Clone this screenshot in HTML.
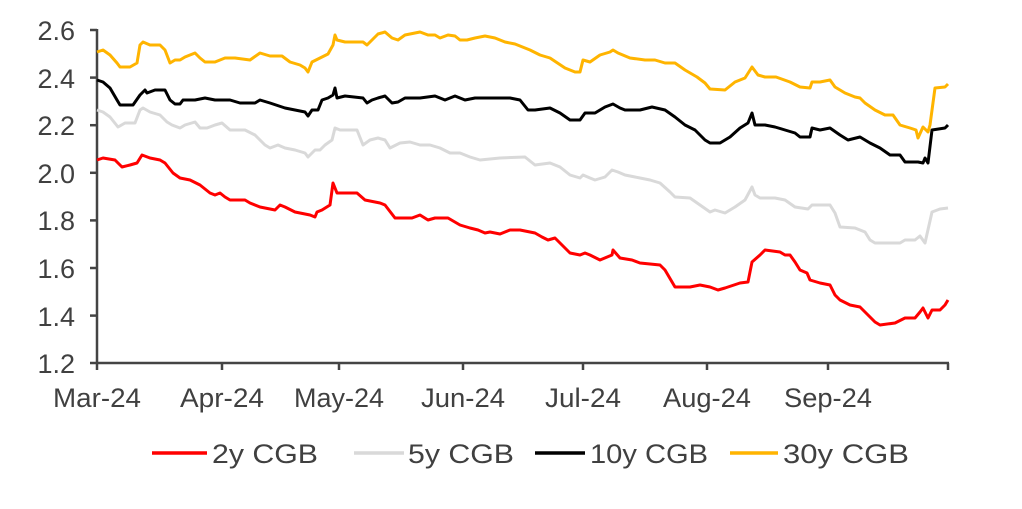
<!DOCTYPE html>
<html><head><meta charset="utf-8"><style>
html,body{margin:0;padding:0;background:#fff;}
svg{display:block;}
text{font-family:"Liberation Sans",Arial,sans-serif;fill:#404040;font-size:27px;}
</style></head><body>
<svg width="1022" height="509" viewBox="0 0 1022 509">
<g stroke="#444" stroke-width="2.5" fill="none">
<line x1="97" y1="29" x2="97" y2="364"/>
<line x1="96" y1="363" x2="949" y2="363"/>
<line x1="90" y1="30" x2="97" y2="30"/>
<line x1="90" y1="77.6" x2="97" y2="77.6"/>
<line x1="90" y1="125.2" x2="97" y2="125.2"/>
<line x1="90" y1="172.8" x2="97" y2="172.8"/>
<line x1="90" y1="220.4" x2="97" y2="220.4"/>
<line x1="90" y1="268" x2="97" y2="268"/>
<line x1="90" y1="315.6" x2="97" y2="315.6"/>
<line x1="90" y1="363" x2="97" y2="363"/>
<line x1="97" y1="363" x2="97" y2="370"/>
<line x1="222" y1="363" x2="222" y2="370"/>
<line x1="339" y1="363" x2="339" y2="370"/>
<line x1="463" y1="363" x2="463" y2="370"/>
<line x1="583" y1="363" x2="583" y2="370"/>
<line x1="707" y1="363" x2="707" y2="370"/>
<line x1="828" y1="363" x2="828" y2="370"/>
<line x1="948" y1="363" x2="948" y2="370"/>
</g>
<g text-anchor="end">
<text x="75" y="40">2.6</text><text x="75" y="88">2.4</text><text x="75" y="135">2.2</text>
<text x="75" y="183">2.0</text><text x="75" y="230">1.8</text><text x="75" y="278">1.6</text>
<text x="75" y="326">1.4</text><text x="75" y="373">1.2</text>
</g>
<g text-anchor="middle">
<text x="97" y="407" textLength="88" lengthAdjust="spacingAndGlyphs">Mar-24</text>
<text x="222" y="407" textLength="84" lengthAdjust="spacingAndGlyphs">Apr-24</text>
<text x="339" y="407" textLength="90" lengthAdjust="spacingAndGlyphs">May-24</text>
<text x="463" y="407" textLength="84" lengthAdjust="spacingAndGlyphs">Jun-24</text>
<text x="583" y="407" textLength="76" lengthAdjust="spacingAndGlyphs">Jul-24</text>
<text x="707" y="407" textLength="88" lengthAdjust="spacingAndGlyphs">Aug-24</text>
<text x="828" y="407" textLength="88" lengthAdjust="spacingAndGlyphs">Sep-24</text>
</g>
<g fill="none" stroke-width="3" stroke-linejoin="round">
<polyline stroke="#d9d9d9" points="97,110 103,112 110,117 118,127 125,123 135,123 140,110 143,108 150,112 160,115 167,122 172,125 180,128 185,125 195,122 200,128 207,128 215,125 222,123 230,130 245,130 255,135 265,145 270,148 278,145 285,148 295,150 305,153 308,157 315,150 320,150 325,145 332,140 335,128 340,130 357,130 363,145 370,140 378,138 385,140 390,148 400,143 410,142 420,145 430,145 440,148 450,153 460,153 470,157 480,160 500,158 525,157 535,165 550,163 560,167 570,175 580,178 583,175 590,178 595,180 605,177 612,170 618,172 625,175 640,178 650,180 660,183 670,192 675,197 690,198 700,205 710,212 715,210 725,213 735,207 745,200 752,187 755,195 760,198 775,198 785,200 795,207 808,209 812,205 830,205 835,213 840,227 855,228 865,232 870,240 875,243 900,243 905,240 915,240 920,236 925,243 932,212 940,209 948,208"/>
<polyline stroke="#ffb400" points="97,52 103,50 110,55 117,63 120,67 130,67 137,63 140,45 143,42 150,45 160,45 165,50 170,63 175,60 180,60 185,57 195,53 200,58 205,62 215,62 225,58 235,58 250,60 260,53 270,56 282,56 290,62 300,65 305,68 308,72 312,62 320,58 328,54 333,45 335,35 337,40 345,42 363,42 367,45 372,40 378,34 385,32 392,38 398,40 405,35 415,33 420,32 428,35 435,35 440,38 448,35 455,36 460,40 467,40 475,38 485,36 495,38 505,42 515,44 530,50 540,55 550,58 565,68 575,72 580,72 583,60 590,62 600,55 610,52 613,50 618,53 630,58 645,60 655,60 665,63 675,63 685,70 697,77 705,83 710,89 725,90 735,82 745,78 752,67 758,75 765,77 776,77 790,82 800,87 810,88 812,82 820,82 830,80 835,87 845,93 855,97 860,98 865,103 875,110 885,115 893,115 900,125 910,128 916,130 918,138 923,127 928,132 930,125 935,88 945,87 948,84"/>
<polyline stroke="#000" points="97,80 103,82 110,88 117,100 120,105 133,105 140,95 145,90 147,93 155,90 165,90 170,100 175,104 180,104 183,100 195,100 205,98 215,100 230,100 240,103 255,103 260,100 270,103 285,108 295,110 305,112 308,116 312,110 318,110 322,100 328,98 333,95 335,88 337,98 345,96 363,98 367,103 372,100 378,98 385,96 392,103 398,102 405,98 420,98 435,96 445,100 455,96 465,100 475,98 485,98 500,98 510,98 520,100 528,110 535,110 550,108 560,113 570,120 580,120 585,113 595,113 605,107 613,104 620,108 625,110 640,110 652,107 665,110 675,117 685,125 695,130 705,140 710,143 720,143 730,137 740,128 748,123 752,113 755,125 765,125 775,127 785,130 795,133 800,137 810,137 812,128 820,130 830,128 840,135 848,140 860,137 870,143 880,148 890,155 900,155 905,162 918,162 923,163 925,158 928,163 932,130 945,128 948,125"/>
<polyline stroke="#ff0000" points="97,160 103,158 115,160 122,167 130,165 137,163 142,155 150,158 160,160 165,163 173,173 180,178 190,180 200,185 210,193 215,195 220,193 225,197 230,200 245,200 250,203 260,207 275,210 280,205 285,207 295,212 310,215 315,217 317,212 322,210 330,205 333,183 337,193 345,193 357,193 365,200 380,203 385,205 395,218 400,218 412,218 420,215 428,220 435,218 448,218 460,225 470,228 478,230 485,233 490,232 500,234 510,230 520,230 535,233 542,237 548,240 555,238 570,253 580,255 585,253 590,255 600,260 612,255 613,250 620,258 632,260 640,263 660,265 665,270 675,287 690,287 700,285 710,287 718,290 725,288 740,283 748,282 752,262 760,255 765,250 780,252 785,255 790,255 795,262 800,270 807,273 810,280 820,283 830,285 835,295 840,300 850,305 860,307 868,315 875,322 880,325 895,323 905,318 915,318 920,312 923,308 928,318 932,310 940,310 945,305 948,300"/>
</g>
<g stroke-width="3.5">
<line x1="152" y1="453" x2="207" y2="453" stroke="#ff0000"/>
<line x1="354" y1="453" x2="404" y2="453" stroke="#d9d9d9"/>
<line x1="535" y1="453" x2="585" y2="453" stroke="#000"/>
<line x1="730" y1="453" x2="778" y2="453" stroke="#ffb400"/>
</g>
<text x="212" y="463" textLength="106" lengthAdjust="spacingAndGlyphs">2y CGB</text>
<text x="408" y="463" textLength="106" lengthAdjust="spacingAndGlyphs">5y CGB</text>
<text x="590" y="463" textLength="118" lengthAdjust="spacingAndGlyphs">10y CGB</text>
<text x="783" y="463" textLength="126" lengthAdjust="spacingAndGlyphs">30y CGB</text>
</svg>
</body></html>
